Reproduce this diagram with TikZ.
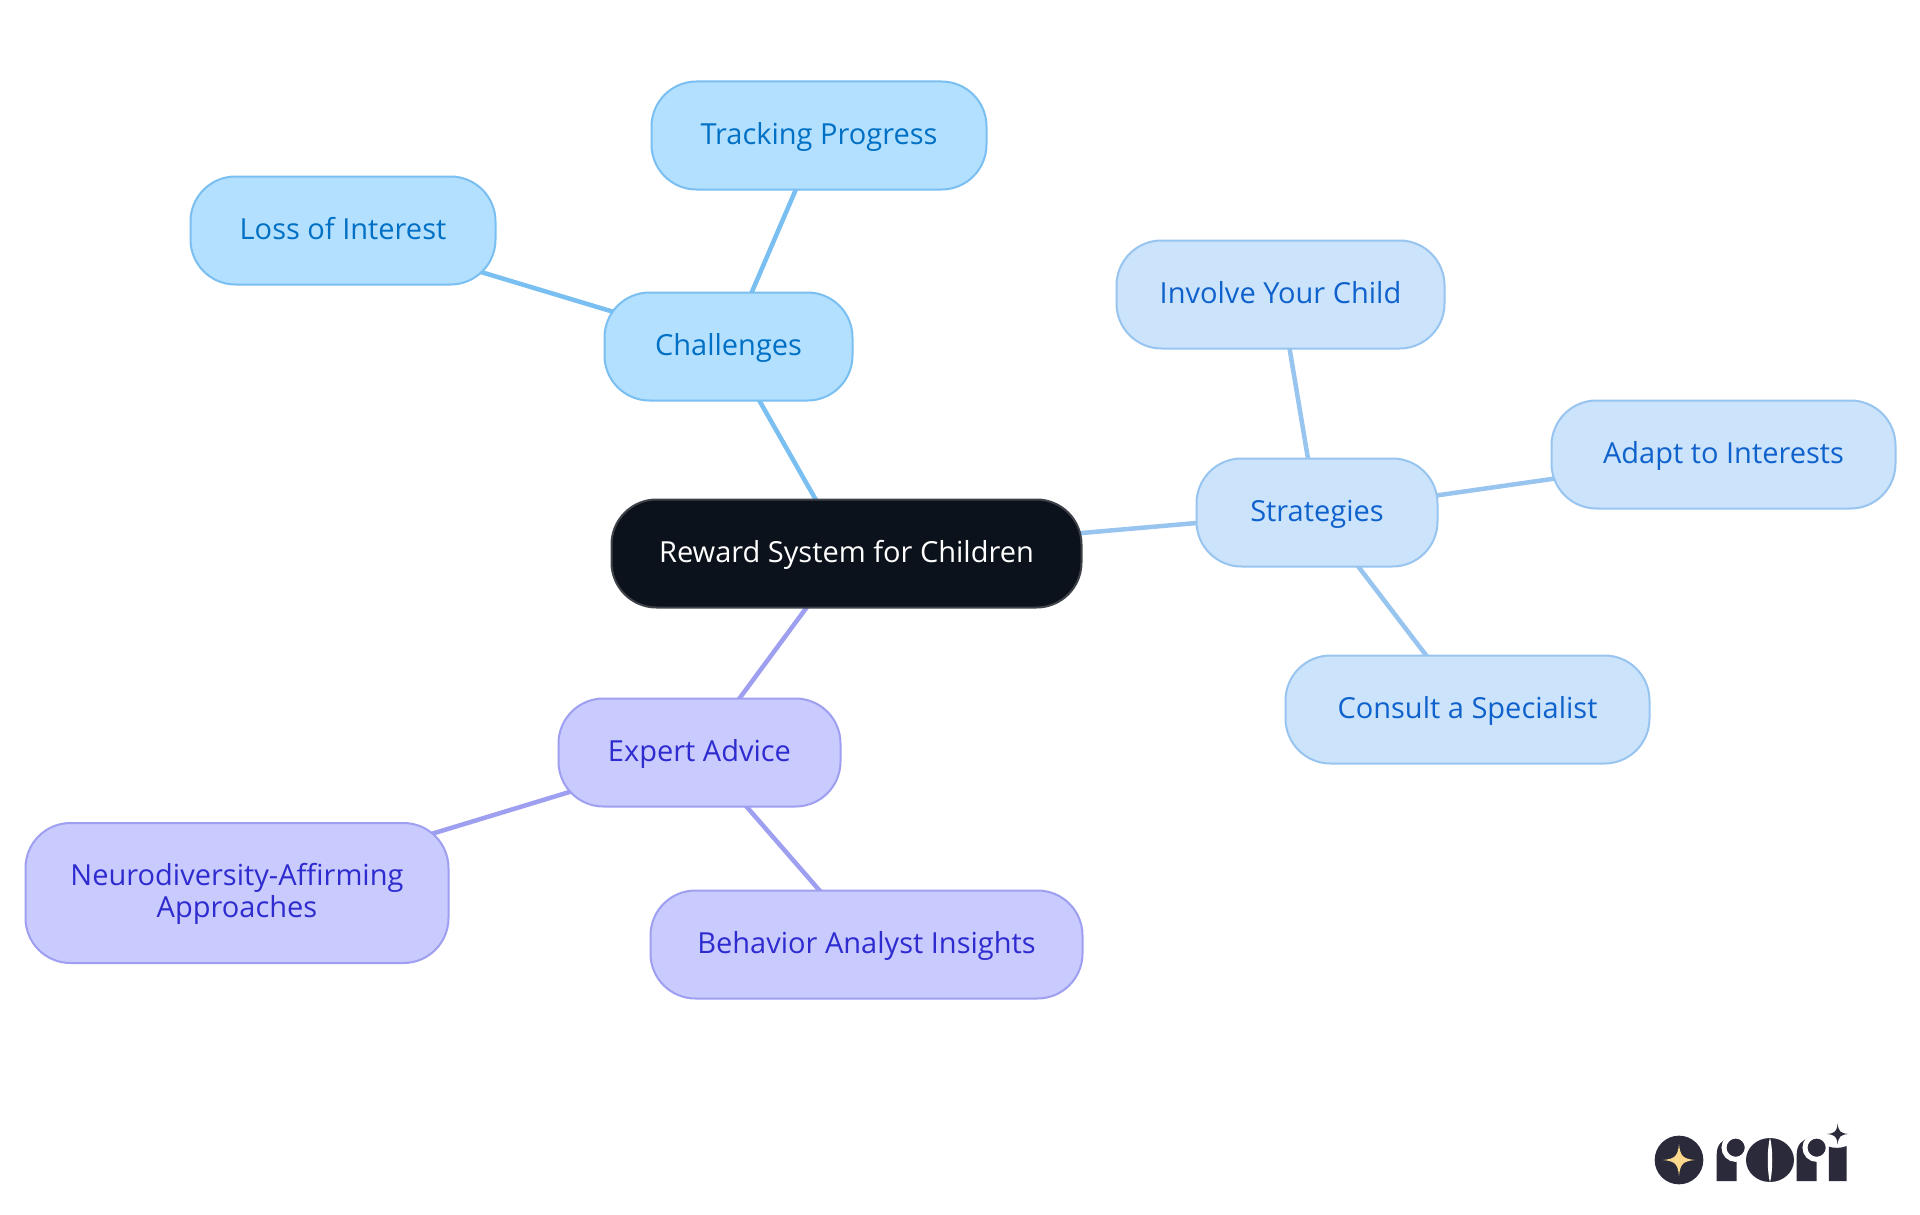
\documentclass[tikz,border=0pt]{standalone}
\usepackage{fontspec}
\setmainfont{Open Sans}
\usetikzlibrary{backgrounds}
\definecolor{rootfill}{HTML}{0B121B}
\definecolor{rootline}{HTML}{3F4349}
\definecolor{afill}{HTML}{B4E0FF}
\definecolor{aline}{HTML}{7ABFF1}
\definecolor{atext}{HTML}{0070C4}
\definecolor{bfill}{HTML}{CCE3FC}
\definecolor{bline}{HTML}{98C4F0}
\definecolor{btext}{HTML}{0F62CC}
\definecolor{cfill}{HTML}{C9CAFE}
\definecolor{cline}{HTML}{9E9FF0}
\definecolor{ctext}{HTML}{2E2BCF}
\definecolor{logodark}{HTML}{2A2A3A}
\definecolor{logostar}{HTML}{FBD88B}
\tikzset{
  mm/.style={rectangle,rounded corners=45pt,line width=2pt,inner sep=0pt,align=center,
    text height=21.5pt,text depth=4.5pt,font=\fontsize{29}{32}\selectfont},
  rootnode/.style={mm,fill=rootfill,draw=rootline,text=white},
  anode/.style={mm,fill=afill,draw=aline,text=atext},
  bnode/.style={mm,fill=bfill,draw=bline,text=btext},
  cnode/.style={mm,fill=cfill,draw=cline,text=ctext},
  aedge/.style={draw=aline,line width=4.5pt},
  bedge/.style={draw=bline,line width=4.5pt},
  cedge/.style={draw=cline,line width=4.5pt},
}
\newcommand{\sparkle}[4]{% cx cy rx ry
  (#1-#3,#2)
  .. controls (#1-0.25*#3,#2-0.07*#4) and (#1-0.07*#3,#2-0.25*#4) .. (#1,#2-#4)
  .. controls (#1+0.07*#3,#2-0.25*#4) and (#1+0.25*#3,#2-0.07*#4) .. (#1+#3,#2)
  .. controls (#1+0.25*#3,#2+0.07*#4) and (#1+0.07*#3,#2+0.25*#4) .. (#1,#2+#4)
  .. controls (#1-0.07*#3,#2+0.25*#4) and (#1-0.25*#3,#2+0.07*#4) .. cycle}
\begin{document}
\begin{tikzpicture}[x=1pt,y=-1pt]
\useasboundingbox (0,0) rectangle (1920,1215);
\node[rootnode,minimum width=470pt,minimum height=108pt] (root) at (846.5,553.5) {Reward System for Children};
\node[anode,minimum width=248pt,minimum height=108pt] (chal) at (728.5,346.5) {Challenges};
\node[anode,minimum width=335pt,minimum height=108pt] (track) at (819,135.5) {Tracking Progress};
\node[anode,minimum width=305pt,minimum height=108pt] (loss) at (343,230.5) {Loss of Interest};
\node[bnode,minimum width=241pt,minimum height=108pt] (strat) at (1317,512.5) {Strategies};
\node[bnode,minimum width=328pt,minimum height=108pt] (inv) at (1280.5,294.5) {Involve Your Child};
\node[bnode,minimum width=344pt,minimum height=108pt] (adapt) at (1723.5,454.5) {Adapt to Interests};
\node[bnode,minimum width=364pt,minimum height=108pt] (cons) at (1467.5,709.5) {Consult a Specialist};
\node[cnode,minimum width=282pt,minimum height=108pt] (exp) at (699.5,752.5) {Expert Advice};
\node[cnode,text height=53.5pt,minimum width=423pt,minimum height=140pt] (neuro) at (237,893) {Neurodiversity-Affirming\\Approaches};
\node[cnode,minimum width=432pt,minimum height=108pt] (beh) at (866.5,944.5) {Behavior Analyst Insights};
\begin{scope}[on background layer]
\fill[white] (0,0) rectangle (1920,1215);
\path[aedge] (root.center) -- (chal.center);
\path[aedge] (chal.center) -- (track.center);
\path[aedge] (chal.center) -- (loss.center);
\path[bedge] (root.center) -- (strat.center);
\path[bedge] (strat.center) -- (inv.center);
\path[bedge] (strat.center) -- (adapt.center);
\path[bedge] (strat.center) -- (cons.center);
\path[cedge] (root.center) -- (exp.center);
\path[cedge] (exp.center) -- (neuro.center);
\path[cedge] (exp.center) -- (beh.center);
\end{scope}
% logo
\begin{scope}[shift={(1620,1100)},x=0.3333pt,y=-0.3333pt]
\fill[logodark] (177,180) circle[radius=73];
\fill[logostar] \sparkle{177}{180}{48}{48};
% r
\fill[logodark] (290,243) -- (290,165) .. controls (290,135) and (305,118) .. (330,115) -- (350,115) -- (350,243) -- cycle;
\fill[logodark,draw=white,line width=5pt] (347,143) circle[radius=35];
\fill[white] (352,190) rectangle (375,250);
% o
\fill[logodark] (450,180) ellipse[x radius=72,y radius=66];
\fill[white] (450,112) .. controls (441,150) and (441,210) .. (450,248) .. controls (459,210) and (459,150) .. cycle;
% r
\fill[logodark] (530,243) -- (530,165) .. controls (530,135) and (545,118) .. (570,115) -- (590,115) -- (590,243) -- cycle;
\fill[logodark,draw=white,line width=5pt] (590,143) circle[radius=35];
\fill[white] (592,190) rectangle (615,250);
% i
\fill[logodark] (627,243) -- (627,140) .. controls (640,145) and (665,145) .. (680,138) -- (680,243) -- cycle;
\fill[logodark] \sparkle{653}{102}{32}{32};
\end{scope}
\end{tikzpicture}
\end{document}
